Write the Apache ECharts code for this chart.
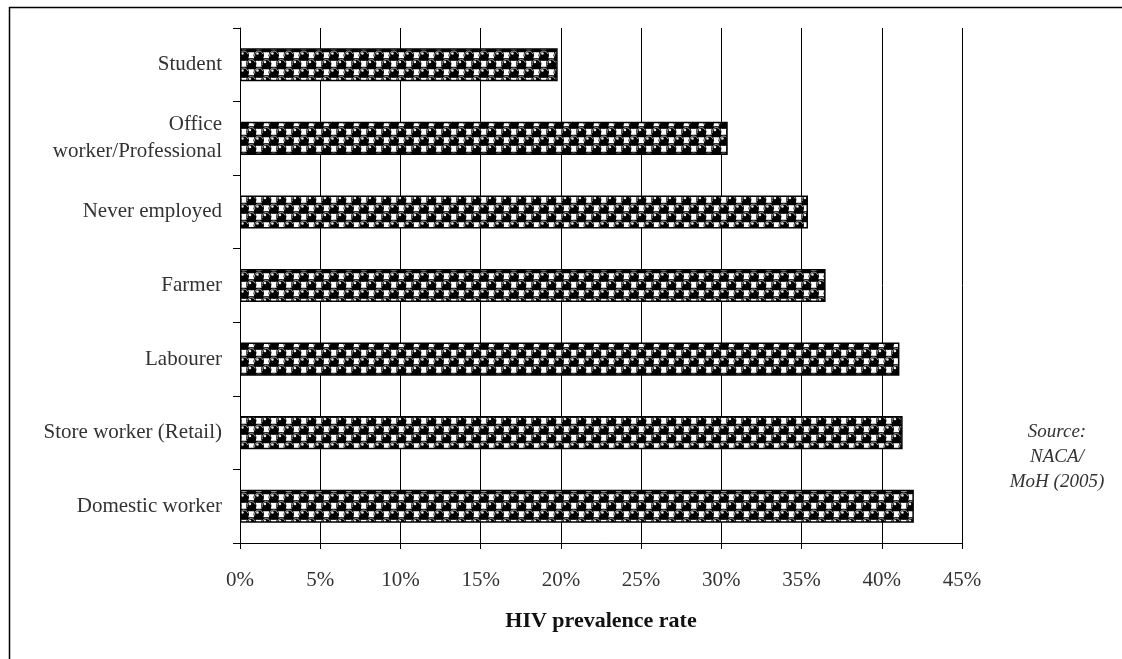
<!DOCTYPE html>
<html>
<head>
<meta charset="utf-8">
<script src="https://cdn.jsdelivr.net/npm/echarts@6/dist/echarts.min.js"></script>
<style>
  html, body { margin: 0; padding: 0; background: #fff; }
  #chart { width: 1122px; height: 659px; }
</style>
</head>
<body>
<div id="chart"></div>
<script>
// Occupations, listed bottom to top
const categories = [
  'Domestic worker',
  'Store worker (Retail)',
  'Labourer',
  'Farmer',
  'Never employed',
  'Office\nworker/Professional',
  'Student'
];
// HIV prevalence rate (%)
const prevalence = [42.0, 41.3, 41.1, 36.5, 35.4, 30.4, 19.8];
const xTicks = [0, 5, 10, 15, 20, 25, 30, 35, 40, 45];
const sourceLines = ['Source:', 'NACA/', 'MoH (2005)'];

// Black fill with staggered rows of shaded spheres and small white gaps
function spherePattern() {
  const w = 15, h = 17;
  const c = document.createElement('canvas');
  c.width = w; c.height = h;
  const g = c.getContext('2d');
  g.fillStyle = '#000';
  g.fillRect(0, 0, w, h);
  g.fillStyle = '#fff';
  [[11.25, 4.25], [3.75, 12.75], [-3.75, 4.25], [18.75, 12.75]].forEach(([x, y]) => {
    g.fillRect(x - 3, y - 3, 6, 6);
  });
  const centers = [[3.75, 4.25], [11.25, 12.75], [-3.75, 12.75], [18.75, 4.25], [3.75, 21.25], [11.25, -4.25]];
  centers.forEach(([x, y]) => {
    g.beginPath();
    g.arc(x, y, 5.2, 0, Math.PI * 2);
    g.fillStyle = '#000';
    g.fill();
    g.beginPath();
    g.arc(x, y, 4.2, Math.PI * 0.9, Math.PI * 1.9);
    g.strokeStyle = '#a8a8a8';
    g.lineWidth = 1;
    g.stroke();
    g.beginPath();
    g.arc(x - 1.3, y - 1.8, 1.3, 0, Math.PI * 2);
    g.fillStyle = '#e8e8e8';
    g.fill();
  });
  return c;
}

const chart = echarts.init(document.getElementById('chart'));
const serif = '"Liberation Serif", "DejaVu Serif", serif';

chart.setOption({
  animation: false,
  backgroundColor: '#fff',
  grid: { left: 240, right: 160, top: 28, bottom: 116, containLabel: false },
  xAxis: {
    type: 'value',
    min: 0, max: 45, interval: 5,
    name: 'HIV prevalence rate',
    nameLocation: 'middle',
    nameGap: 67,
    nameTextStyle: { fontFamily: serif, fontSize: 22, fontWeight: 'bold', color: '#111' },
    axisLine: { show: true, lineStyle: { color: '#000', width: 1 } },
    axisTick: { show: true, length: 6, lineStyle: { color: '#000' } },
    axisLabel: {
      margin: 27,
      fontFamily: serif, fontSize: 21, color: '#333',
      formatter: v => (xTicks.includes(v) ? v + '%' : '')
    },
    splitLine: { show: true, lineStyle: { color: '#000', width: 1 } }
  },
  yAxis: {
    type: 'category',
    data: categories,
    axisLine: { show: true, lineStyle: { color: '#000', width: 1 } },
    axisTick: { show: true, length: 7, lineStyle: { color: '#000' } },
    axisLabel: {
      margin: 18,
      fontFamily: serif, fontSize: 21, color: '#333',
      lineHeight: 27, align: 'right'
    }
  },
  series: [{
    type: 'bar',
    data: prevalence,
    barWidth: '45%',
    itemStyle: {
      color: { image: spherePattern(), repeat: 'repeat' },
      borderColor: '#000',
      borderWidth: 1.5
    }
  }],
  graphic: [
    { type: 'line', shape: { x1: 9, y1: 7.5, x2: 1122, y2: 7.5 }, style: { stroke: '#000', lineWidth: 1.5 } },
    { type: 'line', shape: { x1: 9.5, y1: 7, x2: 9.5, y2: 659 }, style: { stroke: '#000', lineWidth: 1.5 } },
    {
      type: 'text', x: 1057, y: 457,
      style: {
        text: sourceLines.join('\n'),
        textAlign: 'center',
        textVerticalAlign: 'middle',
        fontFamily: serif, fontStyle: 'italic', fontSize: 19, lineHeight: 25,
        fill: '#333'
      }
    }
  ]
});
</script>
</body>
</html>
